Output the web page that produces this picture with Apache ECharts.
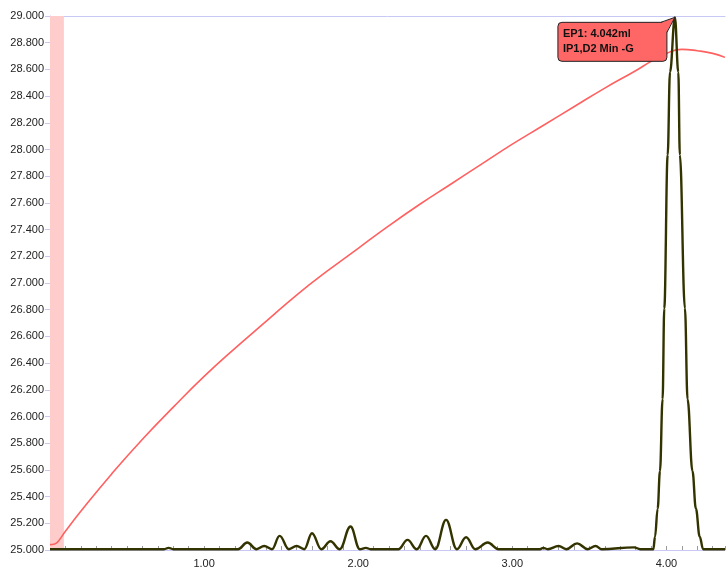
<!DOCTYPE html>
<html>
<head>
<meta charset="utf-8">
<script src="https://cdn.jsdelivr.net/npm/echarts@6/dist/echarts.min.js"></script>
<style>
html, body { margin: 0; padding: 0; background: #fff; }
#chart { width: 728px; height: 569px; }
</style>
</head>
<body>
<div id="chart"></div>
<script>
let $ = a => document.querySelector(a)

// 电位曲线 (红) : 体积 ml / 电位
const volRed = [0, 0.03, 0.05, 0.10, 0.20, 0.40, 0.60, 0.80, 1.00, 1.20, 1.40, 1.60, 1.80, 2.00, 2.20, 2.40, 2.60, 2.80, 3.00, 3.20, 3.40, 3.60, 3.80, 3.90, 4.00, 4.10, 4.20, 4.30, 4.38]
const potRed = [25.04, 25.045, 25.06, 25.14, 25.29, 25.57, 25.83, 26.07, 26.30, 26.51, 26.71, 26.91, 27.09, 27.26, 27.43, 27.59, 27.74, 27.89, 28.04, 28.18, 28.32, 28.46, 28.59, 28.66, 28.72, 28.75, 28.74, 28.72, 28.69]

// 导数曲线 (黑)
const volDeriv = [0, 0.74, 0.77, 0.80, 1.22, 1.28, 1.34, 1.39, 1.44, 1.49, 1.55, 1.60, 1.65, 1.70, 1.76, 1.82, 1.88, 1.95, 2.01, 2.05, 2.08,
    2.26, 2.32, 2.38, 2.44, 2.50, 2.57, 2.64, 2.70, 2.76, 2.84, 2.91, 3.18, 3.20, 3.23, 3.30, 3.35, 3.42, 3.49, 3.54, 3.58, 3.79, 3.83,
    3.915, 3.926, 3.943, 3.958, 3.975, 3.986, 4.008, 4.023, 4.055, 4.077, 4.087, 4.120, 4.137, 4.169, 4.191, 4.216, 4.238, 4.38]
const derivVal = [25.006, 25.006, 25.016, 25.006, 25.006, 25.056, 25.006, 25.03, 25.006, 25.106, 25.006, 25.03, 25.006, 25.126, 25.006, 25.066, 25.006, 25.176, 25.006, 25.016, 25.006,
    25.006, 25.076, 25.006, 25.106, 25.006, 25.226, 25.006, 25.096, 25.006, 25.056, 25.006, 25.006, 25.016, 25.006, 25.03, 25.006, 25.05, 25.006, 25.03, 25.006, 25.02, 25.006,
    25.006, 25.10, 25.31, 25.59, 26.13, 26.81, 27.96, 28.58, 28.99, 28.58, 27.96, 26.81, 26.13, 25.59, 25.31, 25.10, 25.006, 25.006]

// 坐标轴范围
const xMax = 4.38
const yMin = 25, yMax = 29, yStep = 0.2

// 起始区 (粉色)
const startBand = [0, 0.09]

// 终点标注
const epPoint = [4.055, 28.99]
const epText = ['EP1: 4.042ml', 'IP1,D2 Min -G']

const zip = (xs, ys) => xs.map((x, i) => [x, ys[i]])
const axisColor = '#c8c8f4'
const font = 'Liberation Sans'

let chart = echarts.init($('#chart'))
chart.setOption({
    animation: false,
    backgroundColor: '#fff',
    grid: { left: 50, top: 16, right: 0, bottom: 19 },
    xAxis: [
        {
            type: 'value', min: 0, max: xMax, interval: 0.1,
            axisLine: { lineStyle: { color: axisColor, width: 1 } },
            axisTick: { inside: true, length: 4, lineStyle: { color: '#9a9a9a' } },
            axisLabel: {
                color: '#222', fontSize: 11, fontFamily: font, margin: 8,
                formatter: v => Math.abs(v - Math.round(v)) < 1e-6 && v > 0 ? v.toFixed(2) : ''
            },
            splitLine: { show: false }
        },
        {
            // 顶部边框线
            type: 'value', position: 'top', min: 0, max: xMax,
            axisLine: { show: true, lineStyle: { color: axisColor } },
            axisTick: { show: false }, axisLabel: { show: false }, splitLine: { show: false }
        }
    ],
    yAxis: {
        type: 'value', min: yMin, max: yMax, interval: yStep,
        axisLine: { show: true, lineStyle: { color: axisColor } },
        axisTick: { show: true, length: 5, lineStyle: { color: axisColor } },
        axisLabel: { color: '#222', fontSize: 11, fontFamily: font, margin: 6, formatter: v => v.toFixed(3) },
        splitLine: { show: false }
    },
    series: [
        {
            name: 'E',
            type: 'line',
            data: zip(volRed, potRed),
            smooth: 0.5,
            symbol: 'none',
            lineStyle: { color: '#ff6060', width: 1.6 },
            markArea: {
                silent: true,
                itemStyle: { color: '#ffcccc' },
                data: [[{ xAxis: startBand[0] }, { xAxis: startBand[1] }]]
            },
            z: 2
        },
        {
            name: 'dE/dV',
            type: 'line',
            data: zip(volDeriv, derivVal),
            smooth: 0.4,
            smoothMonotone: 'x',
            symbol: 'none',
            lineStyle: { color: '#333300', width: 2.4 },
            z: 3
        }
    ]
})

// 终点气泡标注
{
    let p = chart.convertToPixel({ gridIndex: 0 }, epPoint)
    let bx = p[0] - 117, by = p[1] + 5
    chart.setOption({
        graphic: [
            {
                type: 'rect', z: 10,
                shape: { x: bx, y: by, width: 109, height: 39, r: 4 },
                style: { fill: '#ff6666', stroke: '#222', lineWidth: 1 }
            },
            {
                type: 'polygon', z: 11,
                shape: { points: [[p[0] - 14, by + 0.5], [p[0], p[1]], [p[0] - 8.5, by + 10]] },
                style: { fill: '#ff6666', stroke: null }
            },
            {
                type: 'polyline', z: 12,
                shape: { points: [[p[0] - 14, by], [p[0], p[1]], [p[0] - 8, by + 10]] },
                style: { stroke: '#222', lineWidth: 1, fill: null }
            },
            {
                type: 'text', z: 13,
                x: bx + 5, y: by + 4,
                style: { text: epText.join('\n'), font: 'bold 11px "Liberation Sans"', fill: '#111', lineHeight: 15 }
            }
        ]
    })
}
</script>
</body>
</html>
